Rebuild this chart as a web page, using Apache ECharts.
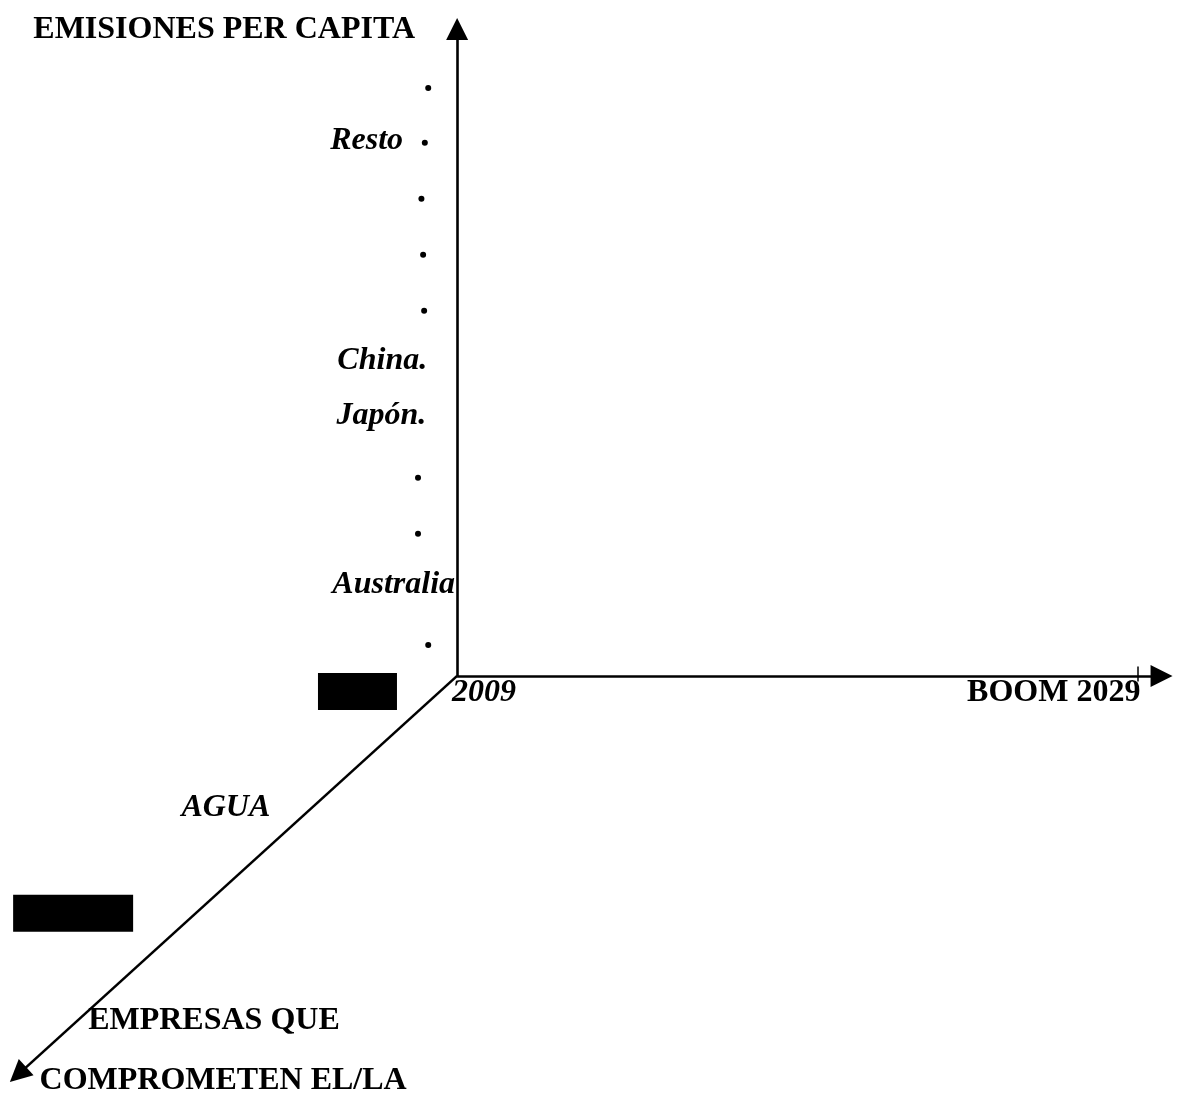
<!DOCTYPE html>
<html>
<head>
<meta charset="utf-8">
<script src="https://cdn.jsdelivr.net/npm/echarts@6/dist/echarts.min.js"></script>
<style>
html,body{margin:0;padding:0;background:#fff;}
#chart{width:1185px;height:1097px;}
</style>
</head>
<body>
<div id="chart"></div>
<script>
// ---- Data ----
const startYear = 2009;
const endYear = 2029;
const xArrowEnd = 2029.71;      // end of horizontal axis arrow
const yArrowEnd = 11.55;        // end of vertical axis arrow
const diagEnd = [1996.09, -7.12]; // end of depth (AGUA) axis arrow

const dotLevels = [10.5, 9.52, 8.52, 7.52, 6.52, 3.54, 2.54, 0.55];
const dotYears  = [2008.15, 2008.05, 2007.95, 2008.0, 2008.03, 2007.85, 2007.85, 2008.15];

const countryNames  = ['Resto', 'China.', 'Japón.', 'Australia'];
const countryLevels = [9.56, 5.63, 4.65, 1.63];
const countryYears  = [2007.41, 2008.12, 2008.09, 2008.94];

const redacted = [[2006.07, -0.28], [1997.71, -4.24]];

const axisTitles = {
  yTitle: 'EMISIONES PER CAPITA',
  xStart: String(startYear),
  xEnd: 'BOOM ' + endYear,
  depthLabel: 'AGUA',
  depthTitle1: 'EMPRESAS QUE',
  depthTitle2: 'COMPROMETEN EL/LA'
};

// ---- Chart ----
const chart = echarts.init(document.getElementById('chart'), null, {renderer: 'canvas'});
const serif = '"Liberation Serif", "Times New Roman", serif';
const boldText = {color: '#000', fontFamily: serif, fontWeight: 'bold', fontSize: 32, opacity: 1};
const italicText = Object.assign({}, boldText, {fontStyle: 'italic'});

function textSeries(points, style, align) {
  return {
    type: 'scatter', symbolSize: 0, silent: true, z: 5,
    itemStyle: {opacity: 1},
    data: points.map(p => ({value: [p[0], p[1]], name: p[2]})),
    label: Object.assign({show: true, position: 'inside', formatter: '{b}', align: align, verticalAlign: 'middle'}, style)
  };
}

const axisLine = {color: '#000', width: 2.6, opacity: 1};

chart.setOption({
  animation: false,
  backgroundColor: '#fff',
  grid: {left: 0, right: 0, top: 0, bottom: 0},
  xAxis: {type: 'value', min: 1995.56, max: 2030.4, show: false},
  yAxis: {type: 'value', min: -7.52, max: 12.07, show: false},
  series: [
    {
      type: 'lines', coordinateSystem: 'cartesian2d', z: 3,
      symbol: ['none', 'triangle'], symbolSize: [17, 22],
      lineStyle: axisLine,
      itemStyle: {color: '#000', opacity: 1},
      data: [
        {coords: [[startYear, 0], [startYear, yArrowEnd]]},
        {coords: [[startYear, 0], [xArrowEnd, 0]]},
        {coords: [[startYear, 0], diagEnd]}
      ]
    },
    {
      type: 'lines', coordinateSystem: 'cartesian2d', z: 3,
      symbol: ['none', 'none'],
      lineStyle: {color: '#000', width: 1.5, opacity: 1},
      data: [{coords: [[endYear, 0.17], [endYear, -0.1]]}]
    },
    {
      type: 'scatter', symbol: 'circle', symbolSize: 6, z: 4,
      itemStyle: {color: '#000', opacity: 1},
      data: dotLevels.map((v, i) => [dotYears[i], v])
    },
    {
      type: 'scatter', symbol: 'rect', z: 6,
      itemStyle: {color: '#000', opacity: 1},
      data: [
        {value: redacted[0], symbolSize: [79, 37]},
        {value: redacted[1], symbolSize: [120, 37]}
      ]
    },
    textSeries(countryNames.map((n, i) => [countryYears[i], countryLevels[i], n]), italicText, 'right'),
    textSeries([[2002.15, 11.54, axisTitles.yTitle]], boldText, 'center'),
    textSeries([[2008.85, -0.3, axisTitles.xStart]], italicText, 'left'),
    textSeries([[2029.09, -0.3, axisTitles.xEnd]], boldText, 'right'),
    textSeries([[2002.2, -2.35, axisTitles.depthLabel]], italicText, 'center'),
    textSeries([[2001.85, -6.16, axisTitles.depthTitle1], [2002.12, -7.23, axisTitles.depthTitle2]], boldText, 'center')
  ]
});
</script>
</body>
</html>
